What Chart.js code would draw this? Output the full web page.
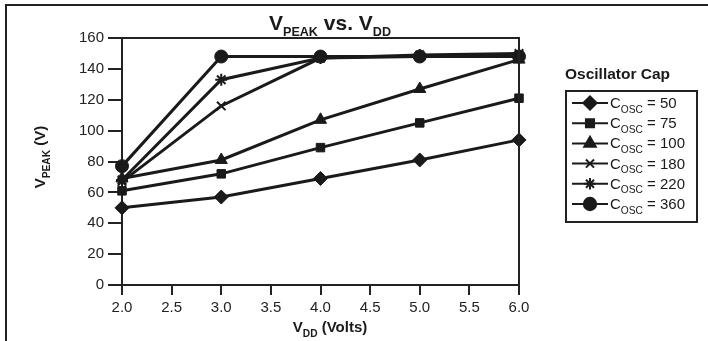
<!DOCTYPE html>
<html>
<head>
<meta charset="utf-8">
<script src="https://cdn.jsdelivr.net/npm/chart.js@4"></script>
<style>
html,body{margin:0;padding:0;background:#fff;}
#wrap{width:708px;height:341px;position:relative;}
</style>
</head>
<body>
<div id="wrap"><canvas id="c" width="708" height="341"></canvas></div>
<script>
// data
const vdd=[2.0,3.0,4.0,5.0,6.0];
const c50=[50,57,69,81,94];
const c75=[61,72,89,105,121];
const c100=[69,81,107,127,146];
const c180=[67,116,147,148,149];
const c220=[68,133,147,149,150];
const c360=[77,148,148,148,148];
const seriesNames=['50','75','100','180','220','360'];
const yTicks=[0,20,40,60,80,100,120,140,160];

const FONT='"Liberation Sans", Arial, sans-serif';
const INK='#1a1a1a';
const styles=[
  {pointStyle:'rectRot',radius:7},
  {pointStyle:'rect',radius:6},
  {pointStyle:'triangle',radius:7},
  {pointStyle:'crossRot',radius:6},
  {pointStyle:'star',radius:6},
  {pointStyle:'circle',radius:6.5}
];
const allData=[c50,c75,c100,c180,c220,c360];

const datasets=allData.map((arr,i)=>({
  label:'C_OSC = '+seriesNames[i],
  data:arr.map((v,j)=>({x:vdd[j],y:v})),
  borderColor:INK,backgroundColor:INK,borderWidth:3,
  pointStyle:styles[i].pointStyle,pointRadius:styles[i].radius,
  pointBorderColor:INK,pointBackgroundColor:INK,
  pointBorderWidth:(styles[i].pointStyle==='crossRot'||styles[i].pointStyle==='star')?2:1,
  clip:false,tension:0
}));

// text with subscripts: parts = [[text,isSub],...]
function subText(ctx,parts,x,y,size,bold,align,ratio){
  ratio=ratio||0.68;
  const w=parts.map(p=>{ctx.font=(bold?'bold ':'')+(p[1]?size*ratio:size)+'px '+FONT;return ctx.measureText(p[0]).width;});
  const tot=w.reduce((a,b)=>a+b,0);
  let cx=align==='center'?x-tot/2:x;
  ctx.textBaseline='alphabetic';ctx.textAlign='left';
  parts.forEach((p,i)=>{
    ctx.font=(bold?'bold ':'')+(p[1]?size*ratio:size)+'px '+FONT;
    ctx.fillText(p[0],cx,p[1]?y+size*0.3:y);
    cx+=w[i];
  });
}

const decor={
  id:'decor',
  afterDraw(chart){
    const ctx=chart.ctx,a=chart.chartArea;
    ctx.save();
    ctx.strokeStyle='#222';ctx.lineWidth=2;
    // outer frame (top + left only)
    ctx.beginPath();ctx.moveTo(6,341);ctx.lineTo(6,5);ctx.lineTo(708,5);ctx.stroke();
    // plot frame top + right
    ctx.beginPath();ctx.moveTo(a.left,a.top);ctx.lineTo(a.right,a.top);ctx.lineTo(a.right,a.bottom);ctx.stroke();
    ctx.fillStyle=INK;
    // title
    subText(ctx,[['V',0],['PEAK',1],[' vs. ',0],['V',0],['DD',1]],330,30,21,true,'center',0.6);
    // x axis title
    subText(ctx,[['V',0],['DD',1],[' (Volts)',0]],330,332,15,true,'center');
    // y axis title
    ctx.save();ctx.translate(45,157);ctx.rotate(-Math.PI/2);
    subText(ctx,[['V',0],['PEAK',1],[' (V)',0]],0,0,15,true,'center');
    ctx.restore();
    // legend
    ctx.font='bold 15.5px '+FONT;ctx.textAlign='left';ctx.textBaseline='alphabetic';
    ctx.fillText('Oscillator Cap',565,79);
    ctx.strokeStyle='#222';ctx.lineWidth=2;
    ctx.strokeRect(566,91,131,131);
    seriesNames.forEach((n,i)=>{
      const y=103+i*20.2;
      ctx.strokeStyle=INK;ctx.lineWidth=2;
      ctx.beginPath();ctx.moveTo(572,y);ctx.lineTo(608,y);ctx.stroke();
      ctx.fillStyle=INK;
      Chart.helpers.drawPoint(ctx,{pointStyle:styles[i].pointStyle,radius:styles[i].radius*0.95,borderWidth:styles[i].pointStyle==='crossRot'||styles[i].pointStyle==='star'?1.5:1,rotation:0},590,y);
      ctx.fillStyle=INK;
      subText(ctx,[['C',0],['OSC',1],[' = '+n,0]],610,y+5,15,false,'left');
    });
    ctx.restore();
  }
};

new Chart(document.getElementById('c'),{
  type:'line',
  data:{datasets},
  options:{
    responsive:false,animation:false,
    layout:{padding:{left:0,top:38,right:189,bottom:0}},
    plugins:{legend:{display:false},title:{display:false},tooltip:{enabled:false}},
    scales:{
      x:{type:'linear',min:2,max:6,
        afterFit(s){s.height=56;},
        ticks:{stepSize:0.5,callback:v=>Number(v).toFixed(1),color:'#222',font:{family:FONT,size:15},padding:4,maxRotation:0},
        grid:{drawOnChartArea:false,drawTicks:true,tickLength:10,color:'#222',lineWidth:2},
        border:{display:true,color:'#222',width:2}
      },
      y:{min:0,max:160,
        afterFit(s){s.width=122;},
        afterBuildTicks(s){s.ticks=yTicks.map(v=>({value:v}));},
        ticks:{color:'#222',font:{family:FONT,size:15},padding:4},
        grid:{drawOnChartArea:false,drawTicks:true,tickLength:14,color:'#222',lineWidth:2},
        border:{display:true,color:'#222',width:2}
      }
    }
  },
  plugins:[decor]
});
</script>
</body>
</html>
